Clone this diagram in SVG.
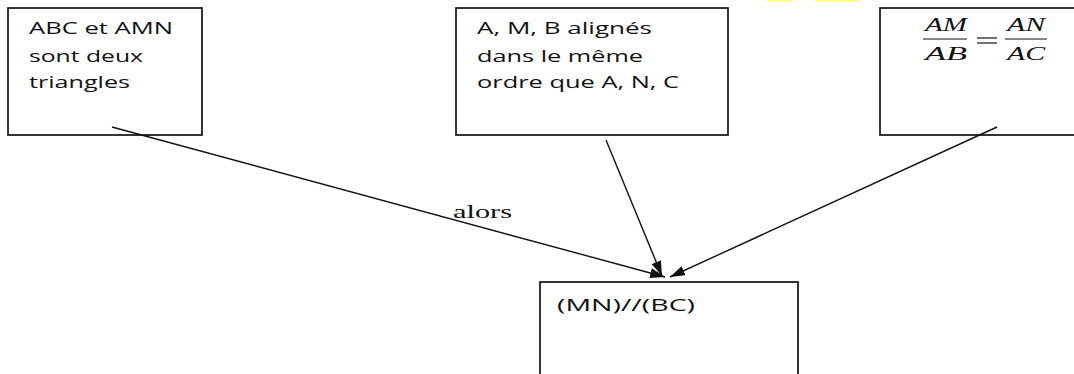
<svg xmlns="http://www.w3.org/2000/svg" width="1074" height="374" viewBox="0 0 1074 374">
<style>
.box{fill:#fff;stroke:#111;stroke-width:1.7}
.t{font-family:"Open Sans","Liberation Sans",sans-serif;font-size:16.5px;fill:#111}
.m{font-family:"Liberation Serif",serif;font-style:italic;font-size:18px;fill:#111}
.lbl{font-family:"Liberation Serif",serif;font-size:19px;fill:#111}
.c{stroke:#111;stroke-width:1.4;fill:none}
.bar{stroke:#111;stroke-width:1.2}
</style>
<defs>
<marker id="ah" viewBox="0 0 15 10" refX="15" refY="5" markerWidth="15" markerHeight="10" markerUnits="userSpaceOnUse" orient="auto">
<path d="M0,0 L15,5 L0,10 Z" fill="#111"/>
</marker>
</defs>
<rect width="1074" height="374" fill="#fff"/>
<rect x="767" y="0" width="26" height="2" fill="#ffff88"/>
<rect x="815" y="0" width="43" height="2" fill="#ffff88"/>
<g id="n1">
<rect class="box" x="8" y="8" width="194" height="127"/>
<text class="t" x="29" y="34" textLength="144" lengthAdjust="spacingAndGlyphs">ABC et AMN</text>
<text class="t" x="29" y="62" textLength="114" lengthAdjust="spacingAndGlyphs">sont deux</text>
<text class="t" x="29" y="88" textLength="101" lengthAdjust="spacingAndGlyphs">triangles</text>
</g>
<g id="n2">
<rect class="box" x="456" y="8" width="272" height="127"/>
<text class="t" x="477" y="34" textLength="175" lengthAdjust="spacingAndGlyphs">A, M, B alignés</text>
<text class="t" x="477" y="62" textLength="166" lengthAdjust="spacingAndGlyphs">dans le même</text>
<text class="t" x="477" y="88" textLength="202" lengthAdjust="spacingAndGlyphs">ordre que A, N, C</text>
</g>
<g id="n3">
<rect class="box" x="880" y="8" width="200" height="127"/>
<text class="m" x="925" y="31" textLength="42" lengthAdjust="spacingAndGlyphs">AM</text>
<line class="bar" x1="923" y1="39" x2="967" y2="39"/>
<text class="m" x="925" y="60" textLength="42" lengthAdjust="spacingAndGlyphs">AB</text>
<line class="bar" x1="977" y1="38" x2="997" y2="38"/>
<line class="bar" x1="977" y1="43" x2="997" y2="43"/>
<text class="m" x="1007" y="31" textLength="38" lengthAdjust="spacingAndGlyphs">AN</text>
<line class="bar" x1="1005" y1="39" x2="1047" y2="39"/>
<text class="m" x="1007" y="60" textLength="38" lengthAdjust="spacingAndGlyphs">AC</text>
</g>
<g id="n4">
<rect class="box" x="540" y="282" width="258" height="110"/>
<text class="t" x="557" y="311" textLength="138" lengthAdjust="spacingAndGlyphs">(MN)//(BC)</text>
</g>
<g id="connectors">
<line class="c" x1="112" y1="127" x2="665" y2="277" marker-end="url(#ah)"/>
<line class="c" x1="606" y1="140" x2="662" y2="276" marker-end="url(#ah)"/>
<line class="c" x1="997" y1="127" x2="670" y2="277" marker-end="url(#ah)"/>
<text class="lbl" x="453" y="218" textLength="59" lengthAdjust="spacingAndGlyphs">alors</text>
</g>
</svg>
